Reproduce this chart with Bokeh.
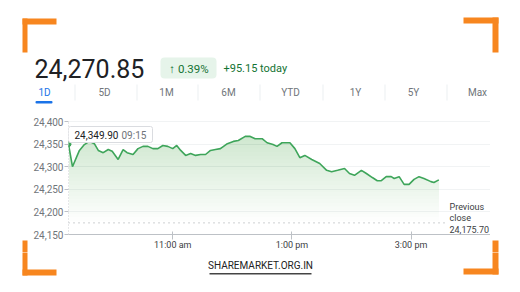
import numpy as np
from bokeh.plotting import figure
from bokeh.layouts import column, row
from bokeh.core.properties import value
from bokeh.models import Range1d, FixedTicker, NumeralTickFormatter, Label, BoxAnnotation
from bokeh.embed import file_html
from bokeh.resources import INLINE

# Intraday quotes (IST) for the session
times = ["09:15", "09:19", "09:26", "09:31", "09:36", "09:41", "09:45", "09:50", "09:55", "09:59",
         "10:05", "10:10", "10:14", "10:20", "10:25", "10:30", "10:35", "10:40", "10:45", "10:50",
         "10:55", "11:00", "11:04", "11:08", "11:13", "11:18", "11:23", "11:28", "11:33", "11:38",
         "11:43", "11:48", "11:55", "12:01", "12:06", "12:13", "12:18", "12:23", "12:30", "12:35",
         "12:41", "12:45", "12:50", "12:58", "13:03", "13:08", "13:13", "13:20", "13:28", "13:35",
         "13:40", "13:46", "13:53", "13:58", "14:03", "14:10", "14:15", "14:21", "14:26", "14:30",
         "14:35", "14:40", "14:43", "14:48", "14:53", "14:58", "15:03", "15:08", "15:13", "15:20",
         "15:23", "15:28"]
prices = [24349.90, 24300, 24336, 24349, 24356, 24351, 24336, 24331, 24338, 24334,
          24316, 24338, 24331, 24327, 24340, 24345, 24345, 24340, 24340, 24347,
          24345, 24340, 24347, 24336, 24325, 24329, 24325, 24327, 24327, 24336,
          24338, 24340, 24351, 24356, 24358, 24367, 24367, 24362, 24362, 24353,
          24349, 24345, 24353, 24353, 24340, 24320, 24325, 24316, 24307, 24292,
          24289, 24292, 24296, 24285, 24281, 24292, 24285, 24276, 24269, 24269,
          24278, 24278, 24274, 24278, 24261, 24261, 24272, 24278, 24274, 24267,
          24265, 24270.85]

last_price = "24,270.85"
change_pct = "\u2191 0.39%"
change_abs = "+95.15 today"
prev_close = 24175.70
tabs = ["1D", "5D", "1M", "6M", "YTD", "1Y", "5Y", "Max"]
y_ticks = [24150, 24200, 24250, 24300, 24350, 24400]
x_ticks = ["11:00", "13:00", "15:00"]
x_tick_labels = ["11:00 am", "1:00 pm", "3:00 pm"]
site = "SHAREMARKET.ORG.IN"


def to_min(t):
    h, m = t.split(":")
    return int(h) * 60 + int(m)


x = np.array([to_min(t) for t in times], dtype=float)
y = np.array(prices)

W, H = 520, 292
HEAD_H, FOOT_Y, SIDE_W = 112, 252, 30
FL, FR = 67, 490                 # left / right edge of the chart frame (page px)
Y_TOP_PX, Y_BOT_PX = 121, 234    # page rows of the top and bottom price ticks
FONT = "Roboto"
GREEN = "#3ea55a"
GREY = "#70757a"
DARK = "#202124"
ORANGE = "#f7861f"

CORNERS = [(22, 27, 18, 52), (22, 56, 18, 24),
           (463, 498, 17, 23), (492, 498, 17, 52),
           (22, 27, 240, 275), (22, 56, 269, 275),
           (492, 498, 240, 274), (463, 498, 268, 274)]


def block(f, x0, x1, y0, y1, color, radius=0):
    """A filled rectangle given in page pixels."""
    f.add_layout(BoxAnnotation(left=x0, right=x1, top=max(y0, y1), bottom=min(y0, y1),
                               fill_color=color, fill_alpha=1, line_alpha=0,
                               border_radius=radius, level="underlay"))


def panel(x0, y0, w, h):
    """A blank figure whose data units are page pixels (y grows downwards)."""
    f = figure(width=w, height=h, output_backend="svg", toolbar_location=None,
               x_range=Range1d(x0, x0 + w), y_range=Range1d(y0 + h, y0),
               x_axis_location=None, y_axis_location=None, min_border=0)
    f.outline_line_color = None
    f.background_fill_color = "white"
    f.border_fill_color = "white"
    f.grid.grid_line_color = None
    for (a, b, c, d) in CORNERS:
        block(f, a, b, c, d, ORANGE)
    return f


def ptext(f, text, cx, cy, size, color, align="left", style="normal"):
    f.text(x=[cx], y=[cy], text=[text], text_font=value(FONT), text_font_size=f"{size}px",
           text_color=color, text_align=align, text_baseline="middle",
           text_font_style=style)


# ---- header: last price, change, range tabs
head = panel(0, 0, W, HEAD_H)
ptext(head, last_price, 34, 68, 25, DARK)
block(head, 160, 216, 57, 78, "#e6f4ea", radius=4)
ptext(head, change_pct, 188.5, 68, 11.5, "#137333", align="center")
ptext(head, change_abs, 223, 68, 11, "#137333")
tab_x = [44, 104, 166, 228, 290, 355, 413, 477]
for i, (t, cx) in enumerate(zip(tabs, tab_x)):
    ptext(head, t, cx, 92, 10, "#1a73e8" if i == 0 else GREY, align="center")
for sx in [74, 136, 197, 259, 322, 384, 446]:
    block(head, sx, sx + 1, 84, 100, "#eceff1")
block(head, 35, 52, 100.5, 103, "#1a73e8", radius=1)

# ---- side strips beside the chart
left = panel(0, HEAD_H, SIDE_W, FOOT_Y - HEAD_H)
right = panel(W - SIDE_W, HEAD_H, SIDE_W, FOOT_Y - HEAD_H)

# ---- footer: site mark
foot = panel(0, FOOT_Y, W, H - FOOT_Y)
ptext(foot, site, 260, 265, 10, "#222222", align="center")
block(foot, 209, 311, 272.5, 274, "#444444")

# ---- the price chart: the frame fills the whole row height, the price axis
# runs from 24,150 to 24,400 over rows Y_BOT_PX..Y_TOP_PX
per_px = (y_ticks[-1] - y_ticks[0]) / (Y_BOT_PX - Y_TOP_PX)
y_lo = y_ticks[0] - (FOOT_Y - Y_BOT_PX) * per_px
y_hi = y_ticks[-1] + (Y_TOP_PX - HEAD_H) * per_px

cw = W - 2 * SIDE_W
p = figure(width=cw, height=FOOT_Y - HEAD_H, output_backend="svg", toolbar_location=None,
           x_range=Range1d(555, 980), y_range=Range1d(y_lo, y_hi),
           min_border_left=FL - SIDE_W, min_border_right=W - SIDE_W - FR,
           min_border_top=0, min_border_bottom=0)
p.outline_line_color = None
p.background_fill_color = "white"
p.border_fill_color = "white"

p.yaxis.ticker = FixedTicker(ticks=y_ticks)
p.yaxis.formatter = NumeralTickFormatter(format="0,0")
p.yaxis.axis_line_color = None
p.yaxis.major_tick_in = 0
p.yaxis.major_tick_out = 4
p.yaxis.major_tick_line_color = "#bdc1c6"
p.yaxis.minor_tick_line_color = None
p.yaxis.major_label_standoff = 1
p.yaxis.major_label_text_font = FONT
p.yaxis.major_label_text_font_size = "10px"
p.yaxis.major_label_text_color = GREY

p.xaxis.fixed_location = y_ticks[0]
p.xaxis.ticker = FixedTicker(ticks=[to_min(t) for t in x_ticks])
p.xaxis.major_label_overrides = {to_min(t): l for t, l in zip(x_ticks, x_tick_labels)}
p.xaxis.axis_line_color = "#bdc1c6"
p.xaxis.major_tick_line_color = "#bdc1c6"
p.xaxis.major_tick_in = 3
p.xaxis.major_tick_out = 5
p.xaxis.minor_tick_line_color = None
p.xaxis.major_label_standoff = 0
p.xaxis.major_label_text_font = FONT
p.xaxis.major_label_text_font_size = "9px"
p.xaxis.major_label_text_color = "#3c4043"

p.xgrid.grid_line_color = None
p.ygrid.grid_line_color = "#f1f3f4"

# soft vertical gradient under the price line
for t in np.arange(24180, 24375, 8):
    p.varea(x=x, y1=np.full_like(y, t), y2=np.maximum(y, t),
            fill_color="#34a853", fill_alpha=0.012)

# previous close reference
p.line(x=[x[0], 936], y=[prev_close, prev_close], line_color="#9aa0a6",
       line_width=1, line_dash="1 4")
# crosshair at the session open
p.segment(x0=[x[0]], y0=[y_ticks[0]], x1=[x[0]], y1=[y_ticks[-1]], line_color="#9aa0a6",
          line_width=1, line_dash="1 2")

p.line(x=x, y=y, line_color=GREEN, line_width=1.6)
p.scatter(x=[x[0]], y=[y[0]], size=5, color=GREEN)


def lab(text, cx, cy, size, color, align="left", style="normal"):
    p.add_layout(Label(x=cx - FL, y=FOOT_Y - cy, x_units="screen", y_units="screen",
                       text=text, text_font=FONT, text_font_size=f"{size}px",
                       text_color=color, text_align=align, text_baseline="middle",
                       text_font_style=style))


# tooltip at the open
p.add_layout(BoxAnnotation(left=0, right=151 - FL, top=FOOT_Y - 126, bottom=FOOT_Y - 142,
                           left_units="screen", right_units="screen",
                           top_units="screen", bottom_units="screen",
                           fill_color="white", fill_alpha=1, line_color="#dadce0",
                           line_alpha=1, line_width=1, border_radius=2))
lab(f"{y[0]:,.2f}", 73, 134.5, 10, DARK)
lab(times[0], 120, 134.5, 10, GREY)

# previous close caption
lab("Previous", 448, 206, 9, "#3c4043")
lab("close", 448, 217.5, 9, "#3c4043")
lab(f"{prev_close:,.2f}", 448, 229, 9, "#3c4043")

page = column(head, row(left, p, right), foot)
open("out.html", "w").write(file_html(page, INLINE))
